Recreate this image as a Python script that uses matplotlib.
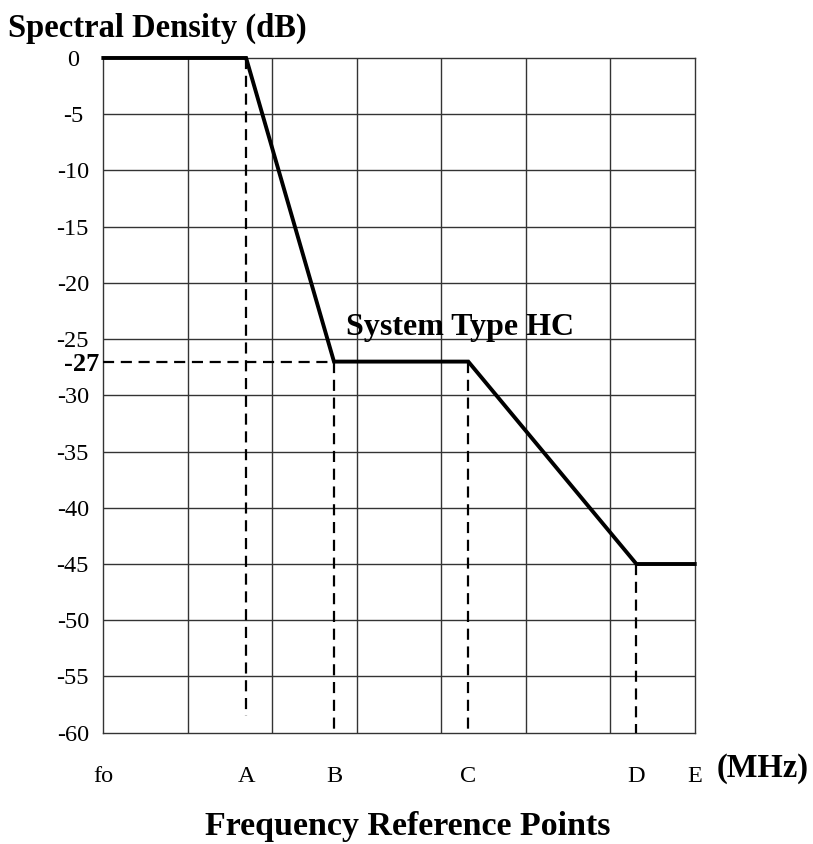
import matplotlib
matplotlib.use("Agg")
import matplotlib.pyplot as plt

# Data
point_names = ["fo", "A", "B", "C", "D", "E"]
point_pos = [0.0, 1.69, 2.73, 4.32, 6.31, 7.0]
mask_db = [0, 0, -27, -27, -45, -45]
y_ticks = [0, -5, -10, -15, -20, -25, -30, -35, -40, -45, -50, -55, -60]
marked_level = -27

plt.rcParams['font.family'] = ['Liberation Serif', 'DejaVu Serif']

fig = plt.figure(figsize=(8.13, 8.44), dpi=100)
ax = fig.add_axes([0.1271, 0.1319, 0.7274, 0.7994])

ax.set_xlim(0, 7)
ax.set_ylim(-60, 0)

# grid
for gx in range(1, 7):
    ax.axvline(gx, color='#333333', lw=1.0, zorder=1)
for gy in y_ticks[1:-1]:
    ax.axhline(gy, color='#333333', lw=1.0, zorder=1)
for s in ax.spines.values():
    s.set_color('#333333')
    s.set_linewidth(1.0)

# mask line
ax.plot(point_pos, mask_db, color='black', lw=2.8, zorder=4, solid_joinstyle='miter', clip_on=False)

# dashed reference lines
dash = dict(color='black', lw=1.6, linestyle=(0, (5, 3)), zorder=3)
ax.plot([point_pos[1], point_pos[1]], [mask_db[1], -58.5], **dash)
ax.plot([point_pos[2], point_pos[2]], [mask_db[2], -60], **dash)
ax.plot([point_pos[3], point_pos[3]], [mask_db[3], -60], **dash)
ax.plot([point_pos[4], point_pos[4]], [mask_db[4], -60], **dash)
ax.plot([0, point_pos[2]], [marked_level, marked_level], **dash)

ax.set_yticks(y_ticks)
ax.set_yticklabels([str(v) for v in y_ticks], fontsize=17.5, ha='center')
ax.tick_params(axis='y', length=0, pad=22)
ax.set_xticks(point_pos)
ax.set_xticklabels(point_names, fontsize=17.5)
ax.tick_params(axis='x', length=0, pad=24)

ax.text(-0.05, marked_level - 0.3, "-27", fontsize=19, fontweight='bold', ha='right', va='center',
        transform=ax.transData)
ax.text(2.87, -24.0, "System Type HC", fontsize=23, fontweight='bold', ha='left', va='center')

fig.text(8 / 813, 1 - 28 / 844, "Spectral Density (dB)", fontsize=23.5, fontweight='bold',
         ha='left', va='center')
fig.text(717 / 813, 1 - 768 / 844, "(MHz)", fontsize=23.5, fontweight='bold', ha='left', va='center')
fig.text(408 / 813, 1 - 826 / 844, "Frequency Reference Points", fontsize=24.5, fontweight='bold',
         ha='center', va='center')

fig.savefig("out.png", dpi=100)
